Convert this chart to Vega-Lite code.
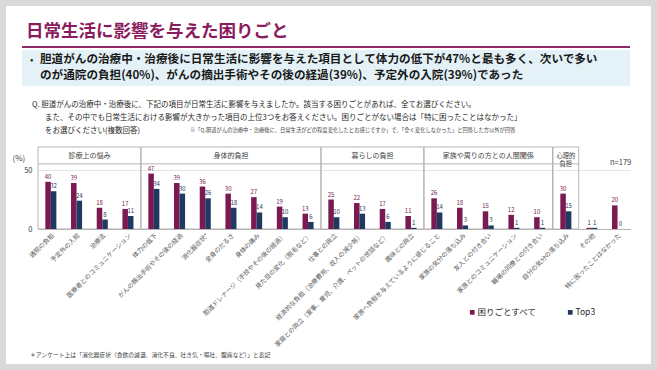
{
  "$schema": "https://vega.github.io/schema/vega-lite/v6.json",
  "background": "white",
  "padding": 0,
  "bounds": "flush",
  "spacing": 7,
  "config": {
    "font": "Noto Sans CJK JP",
    "view": {"stroke": null},
    "axisX": {"labelAngle": -45, "labelFontSize": 6.3, "labelColor": "#595959", "ticks": false, "domain": true, "domainColor": "#b4b4b4", "labelPadding": 3, "labelLimit": 400},
    "axisY": {"domain": false, "ticks": false, "grid": true, "gridColor": "#e4e4e4", "labelFontSize": 7.5, "labelColor": "#404040", "labelPadding": 6}
  },
  "vconcat": [
    {
      "width": 591,
      "height": 140,
      "data": {"values": [{}]},
      "layer": [
        {"mark": {"type": "rect", "filled": false, "stroke": "#d9d9d9", "strokeWidth": 6},
         "encoding": {
           "x": {"datum": -35, "type": "quantitative", "scale": {"domain": [0, 591], "nice": false, "zero": false}, "axis": null},
           "x2": {"datum": 616},
           "y": {"datum": 3, "type": "quantitative", "scale": {"domain": [0, 140], "nice": false, "zero": false, "reverse": true}, "axis": null},
           "y2": {"datum": 367}}},
        {"mark": {"type": "text", "align": "left", "baseline": "alphabetic", "fontSize": 17.5, "fontWeight": "bold", "color": "#8a1c5e"},
         "encoding": {"x": {"datum": -12, "type": "quantitative"}, "y": {"datum": 37, "type": "quantitative"},
           "text": {"value": "日常生活に影響を与えた困りごと"}}},
        {"mark": {"type": "rule", "strokeWidth": 2, "color": "#8e2a65"},
         "encoding": {"x": {"datum": -16, "type": "quantitative"}, "x2": {"datum": 592}, "y": {"datum": 47, "type": "quantitative"}}},
        {"mark": {"type": "rect", "color": "#e4f2f7"},
         "encoding": {"x": {"datum": -16, "type": "quantitative"}, "x2": {"datum": 592}, "y": {"datum": 50, "type": "quantitative"}, "y2": {"datum": 86}}},
        {"mark": {"type": "text", "align": "left", "baseline": "alphabetic", "fontSize": 10, "color": "#262626"},
         "encoding": {"x": {"datum": -8, "type": "quantitative"}, "y": {"datum": 63, "type": "quantitative"}, "text": {"value": "•"}}},
        {"mark": {"type": "text", "align": "left", "baseline": "alphabetic", "fontSize": 11.6, "fontWeight": "bold", "color": "#1a1a1a"},
         "encoding": {"x": {"datum": 2, "type": "quantitative"}, "y": {"datum": 63, "type": "quantitative"},
           "text": {"value": "胆道がんの治療中・治療後に日常生活に影響を与えた項目として体力の低下が47%と最も多く、次いで多い"}}},
        {"mark": {"type": "text", "align": "left", "baseline": "alphabetic", "fontSize": 11.6, "fontWeight": "bold", "color": "#1a1a1a"},
         "encoding": {"x": {"datum": 2, "type": "quantitative"}, "y": {"datum": 79, "type": "quantitative"},
           "text": {"value": "のが通院の負担(40%)、がんの摘出手術やその後の経過(39%)、予定外の入院(39%)であった"}}},
        {"mark": {"type": "text", "align": "left", "baseline": "alphabetic", "fontSize": 7.5, "color": "#262626"},
         "encoding": {"x": {"datum": -6, "type": "quantitative"}, "y": {"datum": 107, "type": "quantitative"},
           "text": {"value": "Q. 胆道がんの治療中・治療後に、下記の項目が日常生活に影響を与えましたか。該当する困りごとがあれば、全てお選びください。"}}},
        {"mark": {"type": "text", "align": "left", "baseline": "alphabetic", "fontSize": 7.5, "color": "#262626"},
         "encoding": {"x": {"datum": 7, "type": "quantitative"}, "y": {"datum": 120, "type": "quantitative"},
           "text": {"value": "また、その中でも日常生活における影響が大きかった項目の上位3つをお答えください。困りごとがない場合は「特に困ったことはなかった」"}}},
        {"mark": {"type": "text", "align": "left", "baseline": "alphabetic", "fontSize": 7.5, "color": "#262626"},
         "encoding": {"x": {"datum": 7, "type": "quantitative"}, "y": {"datum": 133, "type": "quantitative"},
           "text": {"value": "をお選びください(複数回答)"}}},
        {"mark": {"type": "text", "align": "left", "baseline": "alphabetic", "fontSize": 5.3, "color": "#404040"},
         "encoding": {"x": {"datum": 152, "type": "quantitative"}, "y": {"datum": 132, "type": "quantitative"},
           "text": {"value": "※「Q.胆道がんの治療中・治療後に、日常生活がどの程度変化したとお感じですか」で、「全く変化しなかった」と回答した方以外が回答"}}},
        {"mark": {"type": "text", "align": "left", "baseline": "middle", "fontSize": 7.5, "color": "#404040"},
         "encoding": {"x": {"datum": 572, "type": "quantitative"}, "y": {"datum": 163, "type": "quantitative"}, "text": {"value": "n=179"}}},
        {"mark": {"type": "text", "align": "left", "baseline": "middle", "fontSize": 5.8, "color": "#404040"},
         "encoding": {"x": {"datum": -8, "type": "quantitative"}, "y": {"datum": 355, "type": "quantitative"},
           "text": {"value": "＊アンケート上は「消化器症状（食欲の減退、消化不良、吐き気・嘔吐、腹痛など）」と表記"}}}
      ]
    },
    {
      "data": {"values": [
        {"group": "診療上の悩み", "item": "通院の負担", "困りごとすべて": 40, "Top3": 32},
        {"group": "診療上の悩み", "item": "予定外の入院", "困りごとすべて": 39, "Top3": 24},
        {"group": "診療上の悩み", "item": "治療法", "困りごとすべて": 18, "Top3": 8},
        {"group": "診療上の悩み", "item": "医療者とのコミュニケーション", "困りごとすべて": 17, "Top3": 11},
        {"group": "身体的負担", "item": "体力の低下", "困りごとすべて": 47, "Top3": 34},
        {"group": "身体的負担", "item": "がんの摘出手術やその後の経過", "困りごとすべて": 39, "Top3": 30},
        {"group": "身体的負担", "item": "消化器症状*", "困りごとすべて": 36, "Top3": 26},
        {"group": "身体的負担", "item": "全身のだるさ", "困りごとすべて": 30, "Top3": 18},
        {"group": "身体的負担", "item": "身体の痛み", "困りごとすべて": 27, "Top3": 14},
        {"group": "身体的負担", "item": "胆道ドレナージ（手技やその後の経過）", "困りごとすべて": 19, "Top3": 10},
        {"group": "身体的負担", "item": "見た目の変化（脱毛など）", "困りごとすべて": 13, "Top3": 6},
        {"group": "暮らしの負担", "item": "仕事との両立", "困りごとすべて": 25, "Top3": 10},
        {"group": "暮らしの負担", "item": "経済的な負担（治療費用、収入の減少等）", "困りごとすべて": 22, "Top3": 13},
        {"group": "暮らしの負担", "item": "家庭との両立（家事、育児、介護、ペットの世話など）", "困りごとすべて": 17, "Top3": 6},
        {"group": "暮らしの負担", "item": "趣味との両立", "困りごとすべて": 11, "Top3": 1},
        {"group": "家族や周りの方との人間関係", "item": "家族へ負担を与えているように感じること", "困りごとすべて": 26, "Top3": 14},
        {"group": "家族や周りの方との人間関係", "item": "家族の気分の落ち込み", "困りごとすべて": 18, "Top3": 3},
        {"group": "家族や周りの方との人間関係", "item": "友人との付き合い", "困りごとすべて": 15, "Top3": 3},
        {"group": "家族や周りの方との人間関係", "item": "家族とのコミュニケーション", "困りごとすべて": 12, "Top3": 1},
        {"group": "家族や周りの方との人間関係", "item": "職場の同僚との付き合い", "困りごとすべて": 10, "Top3": 1},
        {"group": "心理的負担", "item": "自分の気分の落ち込み", "困りごとすべて": 30, "Top3": 15},
        {"group": "その他", "item": "その他", "困りごとすべて": 1, "Top3": 1},
        {"group": "その他", "item": "特に困ったことはなかった", "困りごとすべて": 20, "Top3": 0}
      ]},
      "transform": [{"fold": ["困りごとすべて", "Top3"], "as": ["key", "value"]}],
      "bounds": "flush",
      "spacing": 0,
      "resolve": {"scale": {"x": "independent", "y": "independent", "xOffset": "independent", "color": "shared"}, "legend": {"color": "shared"}},
      "hconcat": [
        {
          "width": 102.8, "height": 82,
          "layer": [
            {"data": {"values": [{}]}, "mark": {"type": "rect", "filled": false, "stroke": "#b4b4b4", "strokeWidth": 1},
             "encoding": {"y": {"datum": 0, "type": "quantitative", "scale": {"domain": [0, 69.5], "nice": false}}, "y2": {"datum": 69.5}}},
            {"data": {"values": [{}]}, "mark": {"type": "rule", "color": "#b4b4b4", "strokeWidth": 1},
             "encoding": {"y": {"datum": 55.2, "type": "quantitative"}}},
            {"data": {"values": [{}]}, "mark": {"type": "text", "fontSize": 7, "color": "#404040", "baseline": "middle"},
             "encoding": {"y": {"datum": 62.2, "type": "quantitative"}, "text": {"value": "診療上の悩み"}}},
            {"transform": [{"filter": {"field": "group", "equal": "診療上の悩み"}}],
             "mark": "bar",
             "encoding": {
               "x": {"field": "item", "type": "nominal", "sort": null, "title": null, "scale": {"paddingInner": 0.57, "paddingOuter": 0.285}},
               "xOffset": {"field": "key", "sort": ["困りごとすべて", "Top3"]},
               "y": {"field": "value", "type": "quantitative", "scale": {"domain": [0, 69.5], "nice": false},
                 "axis": {"values": [0, 50], "title": "(%)", "titleAngle": 0, "titleAlign": "left", "titleBaseline": "middle", "titleX": -26, "titleY": 11, "titleFontSize": 8, "titleFontWeight": "normal", "titleColor": "#404040"}},
               "color": {"field": "key", "type": "nominal", "sort": ["困りごとすべて", "Top3"],
                 "scale": {"domain": ["困りごとすべて", "Top3"], "range": ["#7b1a52", "#1f3a60"]},
                 "legend": {"title": null, "orient": "none", "legendX": 430, "legendY": 308, "direction": "horizontal", "symbolType": "square", "symbolSize": 22, "labelFontSize": 8.5, "labelColor": "#262626", "columnPadding": 28, "labelOffset": 1}}}},
            {"transform": [{"filter": {"field": "group", "equal": "診療上の悩み"}}],
             "mark": {"type": "text", "fontSize": 6, "baseline": "bottom", "dy": -2},
             "encoding": {
               "x": {"field": "item", "type": "nominal", "sort": null},
               "xOffset": {"field": "key", "sort": ["困りごとすべて", "Top3"]},
               "y": {"field": "value", "type": "quantitative"},
               "text": {"field": "value", "type": "quantitative"},
               "color": {"field": "key", "type": "nominal", "sort": ["困りごとすべて", "Top3"]}}}
          ]
        },
        {
          "width": 179.9, "height": 82,
          "layer": [
            {"data": {"values": [{}]}, "mark": {"type": "rect", "filled": false, "stroke": "#b4b4b4", "strokeWidth": 1},
             "encoding": {"y": {"datum": 0, "type": "quantitative", "scale": {"domain": [0, 69.5], "nice": false}}, "y2": {"datum": 69.5}}},
            {"data": {"values": [{}]}, "mark": {"type": "rule", "color": "#b4b4b4", "strokeWidth": 1},
             "encoding": {"y": {"datum": 55.2, "type": "quantitative"}}},
            {"data": {"values": [{}]}, "mark": {"type": "text", "fontSize": 7, "color": "#404040", "baseline": "middle"},
             "encoding": {"y": {"datum": 62.2, "type": "quantitative"}, "text": {"value": "身体的負担"}}},
            {"transform": [{"filter": {"field": "group", "equal": "身体的負担"}}],
             "mark": "bar",
             "encoding": {
               "x": {"field": "item", "type": "nominal", "sort": null, "title": null, "scale": {"paddingInner": 0.57, "paddingOuter": 0.285}},
               "xOffset": {"field": "key", "sort": ["困りごとすべて", "Top3"]},
               "y": {"field": "value", "type": "quantitative", "scale": {"domain": [0, 69.5], "nice": false}, "axis": {"values": [0, 50], "labels": false, "title": null}},
               "color": {"field": "key", "type": "nominal", "sort": ["困りごとすべて", "Top3"], "scale": {"domain": ["困りごとすべて", "Top3"], "range": ["#7b1a52", "#1f3a60"]}}}},
            {"transform": [{"filter": {"field": "group", "equal": "身体的負担"}}],
             "mark": {"type": "text", "fontSize": 6, "baseline": "bottom", "dy": -2},
             "encoding": {
               "x": {"field": "item", "type": "nominal", "sort": null},
               "xOffset": {"field": "key", "sort": ["困りごとすべて", "Top3"]},
               "y": {"field": "value", "type": "quantitative"},
               "text": {"field": "value", "type": "quantitative"},
               "color": {"field": "key", "type": "nominal", "sort": ["困りごとすべて", "Top3"]}}}
          ]
        },
        {
          "width": 102.8, "height": 82,
          "layer": [
            {"data": {"values": [{}]}, "mark": {"type": "rect", "filled": false, "stroke": "#b4b4b4", "strokeWidth": 1},
             "encoding": {"y": {"datum": 0, "type": "quantitative", "scale": {"domain": [0, 69.5], "nice": false}}, "y2": {"datum": 69.5}}},
            {"data": {"values": [{}]}, "mark": {"type": "rule", "color": "#b4b4b4", "strokeWidth": 1},
             "encoding": {"y": {"datum": 55.2, "type": "quantitative"}}},
            {"data": {"values": [{}]}, "mark": {"type": "text", "fontSize": 7, "color": "#404040", "baseline": "middle"},
             "encoding": {"y": {"datum": 62.2, "type": "quantitative"}, "text": {"value": "暮らしの負担"}}},
            {"transform": [{"filter": {"field": "group", "equal": "暮らしの負担"}}],
             "mark": "bar",
             "encoding": {
               "x": {"field": "item", "type": "nominal", "sort": null, "title": null, "scale": {"paddingInner": 0.57, "paddingOuter": 0.285}},
               "xOffset": {"field": "key", "sort": ["困りごとすべて", "Top3"]},
               "y": {"field": "value", "type": "quantitative", "scale": {"domain": [0, 69.5], "nice": false}, "axis": {"values": [0, 50], "labels": false, "title": null}},
               "color": {"field": "key", "type": "nominal", "sort": ["困りごとすべて", "Top3"], "scale": {"domain": ["困りごとすべて", "Top3"], "range": ["#7b1a52", "#1f3a60"]}}}},
            {"transform": [{"filter": {"field": "group", "equal": "暮らしの負担"}}],
             "mark": {"type": "text", "fontSize": 6, "baseline": "bottom", "dy": -2},
             "encoding": {
               "x": {"field": "item", "type": "nominal", "sort": null},
               "xOffset": {"field": "key", "sort": ["困りごとすべて", "Top3"]},
               "y": {"field": "value", "type": "quantitative"},
               "text": {"field": "value", "type": "quantitative"},
               "color": {"field": "key", "type": "nominal", "sort": ["困りごとすべて", "Top3"]}}}
          ]
        },
        {
          "width": 128.5, "height": 82,
          "layer": [
            {"data": {"values": [{}]}, "mark": {"type": "rect", "filled": false, "stroke": "#b4b4b4", "strokeWidth": 1},
             "encoding": {"y": {"datum": 0, "type": "quantitative", "scale": {"domain": [0, 69.5], "nice": false}}, "y2": {"datum": 69.5}}},
            {"data": {"values": [{}]}, "mark": {"type": "rule", "color": "#b4b4b4", "strokeWidth": 1},
             "encoding": {"y": {"datum": 55.2, "type": "quantitative"}}},
            {"data": {"values": [{}]}, "mark": {"type": "text", "fontSize": 7, "color": "#404040", "baseline": "middle"},
             "encoding": {"y": {"datum": 62.2, "type": "quantitative"}, "text": {"value": "家族や周りの方との人間関係"}}},
            {"transform": [{"filter": {"field": "group", "equal": "家族や周りの方との人間関係"}}],
             "mark": "bar",
             "encoding": {
               "x": {"field": "item", "type": "nominal", "sort": null, "title": null, "scale": {"paddingInner": 0.57, "paddingOuter": 0.285}},
               "xOffset": {"field": "key", "sort": ["困りごとすべて", "Top3"]},
               "y": {"field": "value", "type": "quantitative", "scale": {"domain": [0, 69.5], "nice": false}, "axis": {"values": [0, 50], "labels": false, "title": null}},
               "color": {"field": "key", "type": "nominal", "sort": ["困りごとすべて", "Top3"], "scale": {"domain": ["困りごとすべて", "Top3"], "range": ["#7b1a52", "#1f3a60"]}}}},
            {"transform": [{"filter": {"field": "group", "equal": "家族や周りの方との人間関係"}}],
             "mark": {"type": "text", "fontSize": 6, "baseline": "bottom", "dy": -2},
             "encoding": {
               "x": {"field": "item", "type": "nominal", "sort": null},
               "xOffset": {"field": "key", "sort": ["困りごとすべて", "Top3"]},
               "y": {"field": "value", "type": "quantitative"},
               "text": {"field": "value", "type": "quantitative"},
               "color": {"field": "key", "type": "nominal", "sort": ["困りごとすべて", "Top3"]}}}
          ]
        },
        {
          "width": 25.7, "height": 82,
          "layer": [
            {"data": {"values": [{}]}, "mark": {"type": "rect", "filled": false, "stroke": "#b4b4b4", "strokeWidth": 1},
             "encoding": {"y": {"datum": 0, "type": "quantitative", "scale": {"domain": [0, 69.5], "nice": false}}, "y2": {"datum": 69.5}}},
            {"data": {"values": [{}]}, "mark": {"type": "rule", "color": "#b4b4b4", "strokeWidth": 1},
             "encoding": {"y": {"datum": 55.2, "type": "quantitative"}}},
            {"data": {"values": [{}]}, "mark": {"type": "text", "fontSize": 6.3, "color": "#404040", "baseline": "middle", "lineHeight": 8.6},
             "encoding": {"y": {"datum": 62.2, "type": "quantitative"}, "text": {"value": ["心理的", "負担"]}}},
            {"transform": [{"filter": {"field": "group", "equal": "心理的負担"}}],
             "mark": "bar",
             "encoding": {
               "x": {"field": "item", "type": "nominal", "sort": null, "title": null, "scale": {"paddingInner": 0.57, "paddingOuter": 0.285}},
               "xOffset": {"field": "key", "sort": ["困りごとすべて", "Top3"]},
               "y": {"field": "value", "type": "quantitative", "scale": {"domain": [0, 69.5], "nice": false}, "axis": {"values": [0, 50], "labels": false, "title": null}},
               "color": {"field": "key", "type": "nominal", "sort": ["困りごとすべて", "Top3"], "scale": {"domain": ["困りごとすべて", "Top3"], "range": ["#7b1a52", "#1f3a60"]}}}},
            {"transform": [{"filter": {"field": "group", "equal": "心理的負担"}}],
             "mark": {"type": "text", "fontSize": 6, "baseline": "bottom", "dy": -2},
             "encoding": {
               "x": {"field": "item", "type": "nominal", "sort": null},
               "xOffset": {"field": "key", "sort": ["困りごとすべて", "Top3"]},
               "y": {"field": "value", "type": "quantitative"},
               "text": {"field": "value", "type": "quantitative"},
               "color": {"field": "key", "type": "nominal", "sort": ["困りごとすべて", "Top3"]}}}
          ]
        },
        {
          "width": 51.4, "height": 82,
          "layer": [
            {"transform": [{"filter": {"field": "group", "equal": "その他"}}],
             "mark": "bar",
             "encoding": {
               "x": {"field": "item", "type": "nominal", "sort": null, "title": null, "scale": {"paddingInner": 0.57, "paddingOuter": 0.285}},
               "xOffset": {"field": "key", "sort": ["困りごとすべて", "Top3"]},
               "y": {"field": "value", "type": "quantitative", "scale": {"domain": [0, 69.5], "nice": false}, "axis": {"values": [0, 50], "labels": false, "title": null}},
               "color": {"field": "key", "type": "nominal", "sort": ["困りごとすべて", "Top3"], "scale": {"domain": ["困りごとすべて", "Top3"], "range": ["#7b1a52", "#1f3a60"]}}}},
            {"transform": [{"filter": {"field": "group", "equal": "その他"}}],
             "mark": {"type": "text", "fontSize": 6, "baseline": "bottom", "dy": -2},
             "encoding": {
               "x": {"field": "item", "type": "nominal", "sort": null},
               "xOffset": {"field": "key", "sort": ["困りごとすべて", "Top3"]},
               "y": {"field": "value", "type": "quantitative"},
               "text": {"field": "value", "type": "quantitative"},
               "color": {"field": "key", "type": "nominal", "sort": ["困りごとすべて", "Top3"]}}}
          ]
        }
      ]
    }
  ]
}
